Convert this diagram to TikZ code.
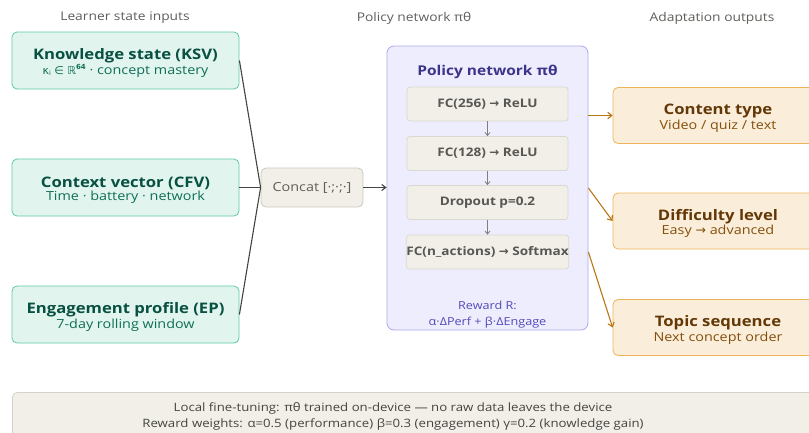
\documentclass[tikz,border=0pt]{standalone}
\usepackage{fontspec}
\setmainfont{Open Sans}[FakeStretch=1.15]
\newfontfamily\symf{DejaVu Sans}
\usetikzlibrary{arrows.meta}

\definecolor{inFill}{HTML}{E1F5EE}
\definecolor{inLine}{HTML}{5DCAA5}
\definecolor{inTitle}{HTML}{085041}
\definecolor{inSub}{HTML}{0F6E56}
\definecolor{grFill}{HTML}{F1EFE8}
\definecolor{grLine}{HTML}{C9C7BE}
\definecolor{grText}{HTML}{444441}
\definecolor{grSoft}{HTML}{5F5E5A}
\definecolor{pFill}{HTML}{EEEDFE}
\definecolor{pLine}{HTML}{AFA9EC}
\definecolor{pTitle}{HTML}{3C3489}
\definecolor{pText}{HTML}{534AB7}
\definecolor{oFill}{HTML}{FAEEDA}
\definecolor{oLine}{HTML}{EFB45A}
\definecolor{oTitle}{HTML}{633806}
\definecolor{oSub}{HTML}{854F0B}
\definecolor{oArrow}{HTML}{BA7517}
\definecolor{hdr}{HTML}{5F5E5A}

\newcommand{\ar}{{\symf\char"2192}}
% title line carries a tall strut so the two-line block sits a little low
\newcommand{\ttl}{\fontsize{14.5}{17}\selectfont\bfseries\rule{0pt}{16pt}}
\newcommand{\sbt}{\fontsize{12.5}{15}\selectfont\mdseries}

\tikzset{
  box/.style={rounded corners=5pt, line width=0.8pt, align=center, inner sep=0pt},
  inbox/.style={box, fill=inFill, draw=inLine, minimum width=227pt, minimum height=57pt},
  outbox/.style={box, fill=oFill, draw=oLine, minimum width=210pt, minimum height=56pt},
  layer/.style={box, rounded corners=3pt, fill=grFill, draw=grLine!70, minimum width=161pt, minimum height=34pt,
     font=\fontsize{11.8}{14}\selectfont\bfseries, text=grText!90},
  header/.style={font=\fontsize{12}{14}\selectfont, text=hdr},
  feed/.style={draw=grText, line width=1.1pt},
  feedarrow/.style={feed, -{Straight Barb[length=4pt,width=6pt]}},
  innerarrow/.style={draw=grSoft!80, line width=0.8pt, -{Straight Barb[length=3pt,width=5pt]}},
  outarrow/.style={draw=oArrow, line width=1.1pt, -{Straight Barb[length=4pt,width=6.5pt]}},
}

\begin{document}
\begin{tikzpicture}[x=1pt,y=-1pt]
\useasboundingbox (0,0) rectangle (809,432);

% column headers
\node[header] (hIn)  at (125,18) {Learner state inputs};
\node[header] (hPol) at (414,18) {Policy network πθ};
\node[header] (hOut) at (712,18) {Adaptation outputs};

% learner state inputs
\node[inbox] (ksv) at (125.5,60.5) {\ttl\color{inTitle}Knowledge state (KSV)\\[0.8pt]
  \sbt\color{inSub}{\symf\fontsize{11}{12}\selectfont κ\raisebox{-1.5pt}{\fontsize{6.5}{6}\selectfont i} ∈ ℝ\raisebox{4.5pt}{\fontsize{7}{6}\selectfont\bfseries 64}} · concept mastery};
\node[inbox] (cfv) at (125.5,187.5) {\ttl\color{inTitle}Context vector (CFV)\\[0.8pt]
  \sbt\color{inSub}Time · battery · network};
\node[inbox] (ep) at (125.5,314.5) {\ttl\color{inTitle}Engagement profile (EP)\\[0.8pt]
  \sbt\color{inSub}7-day rolling window};

% concatenation
\node[box, fill=grFill, draw=grLine, minimum width=102pt, minimum height=39pt,
      font=\fontsize{12.5}{14}\selectfont, text=grSoft] (cat) at (312,187.5) {Concat [·;·;·]};

% policy network container
\node[box, rounded corners=7pt, fill=pFill, draw=pLine, minimum width=201pt, minimum height=284pt] (pol) at (487.5,188) {};
\node[font=\fontsize{13.5}{16}\selectfont\bfseries, text=pTitle] (polT) at (487.5,72) {Policy network πθ};
\node[layer] (l1) at (487.5,104) {FC(256) \ar{} ReLU};
\node[layer] (l2) at (487.5,153.5) {FC(128) \ar{} ReLU};
\node[layer] (l3) at (487.5,202.5) {Dropout p=0.2};
\node[layer] (l4) at (487.5,252) {FC(n\_actions) \ar{} Softmax};
\node[align=center, font=\fontsize{11}{16}\selectfont, text=pText] (rew) at (487.5,315) {Reward R:\\α·ΔPerf + β·ΔEngage};
\draw[innerarrow] (l1) -- (l2);
\draw[innerarrow] (l2) -- (l3);
\draw[innerarrow] (l3) -- (l4);

% adaptation outputs
\node[outbox] (ct) at (718,115.5) {\ttl\color{oTitle}Content type\\[0.8pt]
  \sbt\color{oSub}Video / quiz / text};
\node[outbox] (dl) at (718,221) {\ttl\color{oTitle}Difficulty level\\[0.8pt]
  \sbt\color{oSub}Easy \ar{} advanced};
\node[outbox] (ts) at (718,327.5) {\ttl\color{oTitle}Topic sequence\\[0.8pt]
  \sbt\color{oSub}Next concept order};

% feeds into the concatenation
\draw[feed] (ksv.east) -- (cat.west);
\draw[feed] (cfv.east) -- (cat.west);
\draw[feed] (ep.east) -- (cat.west);
\draw[feedarrow] (cat.east) -- (pol.west |- cat.east);

% policy to outputs
\coordinate (o1) at (pol.east |- ct.west);
\coordinate (o2) at (pol.east |- 0,188);
\coordinate (o3) at (pol.east |- 0,252);
\draw[outarrow] (o1) -- (ct.west);
\draw[outarrow] (o2) -- (dl.west);
\draw[outarrow] (o3) -- (ts.west);

% on-device training note
\node[box, fill=grFill, draw=grLine!80, minimum width=820pt, minimum height=70pt, anchor=north west] (note) at (12,392) {};
\node[align=center, font=\fontsize{11.5}{16}\selectfont, text=grText] (noteT) at (393,416.5)
  {Local fine-tuning: πθ trained on-device — no raw data leaves the device\\
   Reward weights: α=0.5 (performance) β=0.3 (engagement) γ=0.2 (knowledge gain)};
\end{tikzpicture}
\end{document}
